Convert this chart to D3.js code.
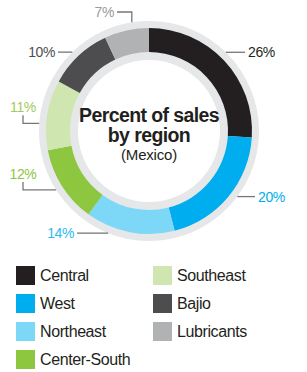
<!DOCTYPE html>
<html>
<head>
<meta charset="utf-8">
<script src="https://cdn.jsdelivr.net/npm/d3@7"></script>
<style>
	body { margin: 0; background: #fff; }
	svg { display: block; font-family: 'Liberation Sans', Arial, sans-serif; }
</style>
</head>
<body>
<svg id="canvas" width="307" height="372"></svg>
<script>
let regions = ['Central', 'West', 'Northeast', 'Center-South', 'Southeast', 'Bajio', 'Lubricants'];
let shares = [26, 20, 14, 12, 11, 10, 7];
let sliceColors = ['#231f20', '#00aeef', '#7dd8f8', '#8dc63f', '#cfe6b1', '#4d4d4f', '#b1b2b4'];
let labelColors = ['#231f20', '#00aeef', '#2bbbef', '#8dc63f', '#9fcd5a', '#4d4d4f', '#999a9c'];
let titleLines = ['Percent of sales', 'by region'];
let subtitle = '(Mexico)';

let canvas = d3.select('#canvas');
let cx = 149, cy = 131;

let chart = canvas.append('g').attr('transform', `translate(${cx}, ${cy})`);

// light gray backing ring
chart.append('path')
	.attr('fill', '#e6e7e8')
	.attr('d', d3.arc().innerRadius(71).outerRadius(110).startAngle(0).endAngle(2 * Math.PI)());

let pie = d3.pie().sort(null).value((d) => d);
let slices = pie(shares);
let arc = d3.arc().innerRadius(79).outerRadius(103);

chart.selectAll('path.slice')
	.data(slices)
	.enter()
	.append('path')
	.attr('class', 'slice')
	.attr('fill', (d, i) => sliceColors[i])
	.attr('d', arc);

// callouts: angle nudge (deg) and leader shape per slice
let callouts = [
	{ nudge: -2.5, type: 'right', end: 245 },
	{ nudge: -3, type: 'right', end: 255 },
	{ nudge: 11, type: 'left', end: 77 },
	{ nudge: 0, type: 'leftUp', end: 23 },
	{ nudge: -5, type: 'leftUp', end: 23 },
	{ nudge: -1, type: 'left', end: 58 },
	{ nudge: 3.6, type: 'upLeft', end: 117, top: 12 }
];

let labels = canvas.append('g');
slices.forEach((s, i) => {
	let c = callouts[i];
	let a = (s.startAngle + s.endAngle) / 2 + c.nudge * Math.PI / 180;
	let ax = cx + 110 * Math.sin(a);
	let ay = cy - 110 * Math.cos(a);
	let pts, tx, ty, anchor;
	if (c.type === 'right') {
		pts = [[ax, ay], [c.end, ay]];
		tx = c.end + 3; ty = ay + 5; anchor = 'start';
	} else if (c.type === 'left') {
		pts = [[ax, ay], [c.end, ay]];
		tx = c.end - 3; ty = ay + 5; anchor = 'end';
	} else if (c.type === 'upLeft') {
		pts = [[ax, ay], [ax, c.top], [c.end, c.top]];
		tx = c.end - 3; ty = c.top + 5; anchor = 'end';
	} else {
		pts = [[ax, ay], [c.end, ay], [c.end, ay - 8]];
		tx = c.end; ty = ay - 11; anchor = 'middle';
	}
	labels.append('path')
		.attr('d', d3.line()(pts))
		.attr('fill', 'none')
		.attr('stroke', '#777')
		.attr('stroke-width', 1.3);
	labels.append('text')
		.attr('x', tx)
		.attr('y', ty)
		.attr('text-anchor', anchor)
		.attr('font-size', 14)
		.attr('letter-spacing', -0.4)
		.attr('fill', labelColors[i])
		.text(shares[i] + '%');
});

// center title
chart.selectAll('text.title')
	.data(titleLines)
	.enter()
	.append('text')
	.attr('class', 'title')
	.attr('text-anchor', 'middle')
	.attr('y', (d, i) => -9 + i * 20)
	.attr('font-size', 19.5)
	.attr('font-weight', 'bold')
	.attr('letter-spacing', -0.6)
	.attr('fill', '#231f20')
	.text((d) => d);
chart.append('text')
	.attr('text-anchor', 'middle')
	.attr('y', 29)
	.attr('font-size', 15)
	.attr('letter-spacing', -0.2)
	.attr('fill', '#231f20')
	.text(subtitle);

// legend, two columns
let legend = canvas.selectAll('g.key')
	.data(regions)
	.enter()
	.append('g')
	.attr('class', 'key')
	.attr('transform', (d, i) => {
		let col = i < 4 ? 0 : 1;
		let row = i < 4 ? i : i - 4;
		return `translate(${16 + col * 137}, ${266 + row * 28})`;
	});
legend.append('rect')
	.attr('width', 19)
	.attr('height', 19)
	.attr('fill', (d, i) => sliceColors[i]);
legend.append('text')
	.attr('x', 24)
	.attr('y', 14.5)
	.attr('font-size', 16)
	.attr('letter-spacing', -0.4)
	.attr('fill', '#231f20')
	.text((d) => d);
</script>
</body>
</html>
